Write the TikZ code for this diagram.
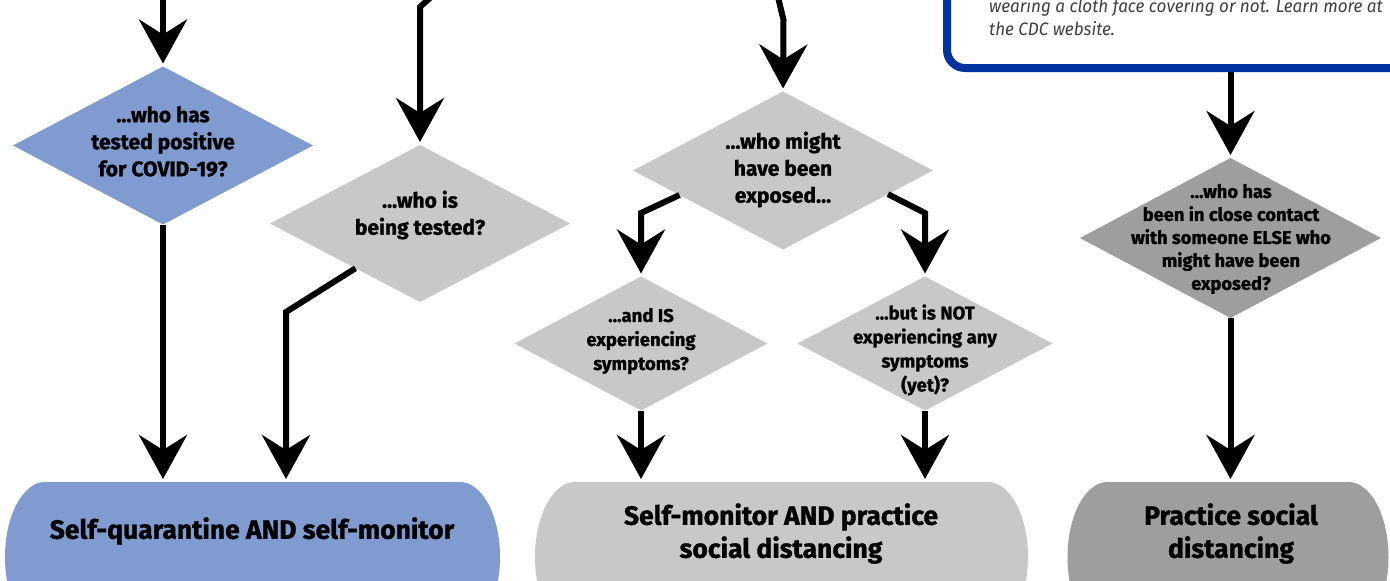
\documentclass[tikz,border=0pt]{standalone}
\usepackage{fontspec}
\setmainfont{Fira Sans}
\newfontfamily\condbf{Fira Sans}[FakeBold=1.2]
\newfontfamily\condit{Fira Sans}[FakeStretch=0.95]
\usetikzlibrary{arrows.meta,shapes.geometric,backgrounds,calc}
\definecolor{sblue}{RGB}{127,155,208}
\definecolor{sgray}{RGB}{200,200,198}
\definecolor{sdark}{RGB}{157,158,160}
\definecolor{boxblue}{RGB}{0,51,160}
\definecolor{ittext}{RGB}{64,64,64}
\begin{document}
\begin{tikzpicture}[x=1pt,y=-1pt,
  arr/.style={line width=6pt,-{Stealth[length=44pt,width=48pt,inset=15pt]},shorten >=3pt},
  dia/.style={shape=diamond,inner sep=0pt,outer sep=0pt,draw=none},
  big/.style={minimum width=300pt,minimum height=158pt},
  small/.style={minimum width=253pt,minimum height=134pt},
  qtext/.style={align=center,inner sep=0pt,font=\condbf\bfseries\fontsize{21}{27}\selectfont},
  qsmall/.style={align=center,inner sep=0pt,font=\condbf\bfseries\fontsize{18.5}{24}\selectfont},
  qtiny/.style={align=center,inner sep=0pt,font=\condbf\bfseries\fontsize{18.3}{23}\selectfont},
  btext/.style={align=center,inner sep=0pt,font=\condbf\bfseries\fontsize{26.5}{33}\selectfont},
  itx/.style={inner sep=0pt,text=ittext,font=\condit\itshape\fontsize{18}{23}\selectfont},
  stad/.style={shape=rectangle,inner sep=0pt,outer sep=0pt,minimum height=150pt}]
\useasboundingbox (0,0) rectangle (1390,581);
\clip (0,0) rectangle (1390,581);

% info box
\node[draw=boxblue,fill=white,line width=8pt,rounded corners=18pt,
      minimum width=503pt,minimum height=148pt] (info) at (1198.5,-6) {};
\node[itx,anchor=base west] (it1) at (989,12) {wearing a cloth face covering or not. Learn more at};
\node[itx,anchor=base west] (it2) at (989,35) {the CDC website.};

% diamonds
\node[dia,big,fill=sblue] (d1) at (163,145.5) {};
\node[dia,big,fill=sgray,minimum height=157pt] (d2) at (420,223.5) {};
\node[dia,big,fill=sgray] (d3) at (783,170.5) {};
\node[dia,small,fill=sgray] (d4) at (641,343.5) {};
\node[dia,small,fill=sgray,minimum width=255pt] (d5) at (925,343.5) {};
\node[dia,big,fill=sdark,minimum width=301pt,minimum height=160pt] (d6) at (1230.5,238) {};

\node[qtext] (d1t) at (163,141.5) {...who has\\tested positive\\for COVID-19?};
\node[qtext] (d2t) at (420,215) {...who is\\being tested?};
\node[qtext] (d3t) at (783,169.5) {...who might\\have been\\exposed...};
\node[qsmall] (d4t) at (641,341) {...and IS\\experiencing\\symptoms?};
\node[qsmall] (d5t) at (925,350) {...but is NOT\\experiencing any\\symptoms\\(yet)?};
\node[qtiny] (d6t) at (1231,239) {...who has\\been in close contact\\with someone ELSE who\\might have been\\exposed?};

% stadiums
\node[stad,minimum width=495pt] (s1) at (252.5,557) {};
\node[stad,minimum width=493pt] (s2) at (781.5,557) {};
\node[stad,minimum width=321pt] (s3) at (1228,557) {};
\begin{scope}[on background layer]
\fill[sblue] ([xshift=40pt]s1.north west) arc[start angle=90,end angle=270,x radius=40pt,y radius=75pt]
  -- ([xshift=-40pt]s1.south east) arc[start angle=-90,end angle=90,x radius=40pt,y radius=75pt] -- cycle;
\fill[sgray] ([xshift=40pt]s2.north west) arc[start angle=90,end angle=270,x radius=40pt,y radius=75pt]
  -- ([xshift=-40pt]s2.south east) arc[start angle=-90,end angle=90,x radius=40pt,y radius=75pt] -- cycle;
\fill[sdark] ([xshift=40pt]s3.north west) arc[start angle=90,end angle=270,x radius=40pt,y radius=75pt]
  -- ([xshift=-40pt]s3.south east) arc[start angle=-90,end angle=90,x radius=40pt,y radius=75pt] -- cycle;
\end{scope}
\node[btext] (s1t) at (252,531) {Self-quarantine AND self-monitor};
\node[btext] (s2t) at (781,533.5) {Self-monitor AND practice\\social distancing};
\node[btext] (s3t) at (1231,533.5) {Practice social\\distancing};

% connectors
\coordinate (c1) at (163,-3);
\coordinate (c2a) at (431,-3);
\coordinate (c2b) at (420,7);
\coordinate (c3a) at (778,-3);
\coordinate (c3b) at (783.5,20);
\coordinate (e2) at ($(d2.west)!0.57!(d2.south)$);
\coordinate (b2) at (286,312);
\coordinate (e3l) at ($(d3.west)!0.31!(d3.south)$);
\coordinate (b3l) at (641,213);
\coordinate (e3r) at ($(d3.east)!0.3!(d3.south)$);
\coordinate (b3r) at (925,213);

\draw[arr] (c1) -- (d1.north);
\draw[arr] (c2a) -- (c2b) -- (d2.north);
\draw[arr] (c3a) -- (c3b) -- (d3.north);
\draw[arr] (d1.south) -- (d1.south |- s1.north);
\draw[arr] (e2) -- (b2) -- (b2 |- s1.north);
\draw[arr] (e3l) -- (b3l) -- (d4.north);
\draw[arr] (e3r) -- (b3r) -- (d5.north);
\draw[arr] (d4.south) -- (d4.south |- s2.north);
\draw[arr] (d5.south) -- (d5.south |- s2.north);
\draw[arr] (info.south -| d6.north) -- (d6.north);
\draw[arr] (d6.south) -- (d6.south |- s3.north);
\end{tikzpicture}
\end{document}
